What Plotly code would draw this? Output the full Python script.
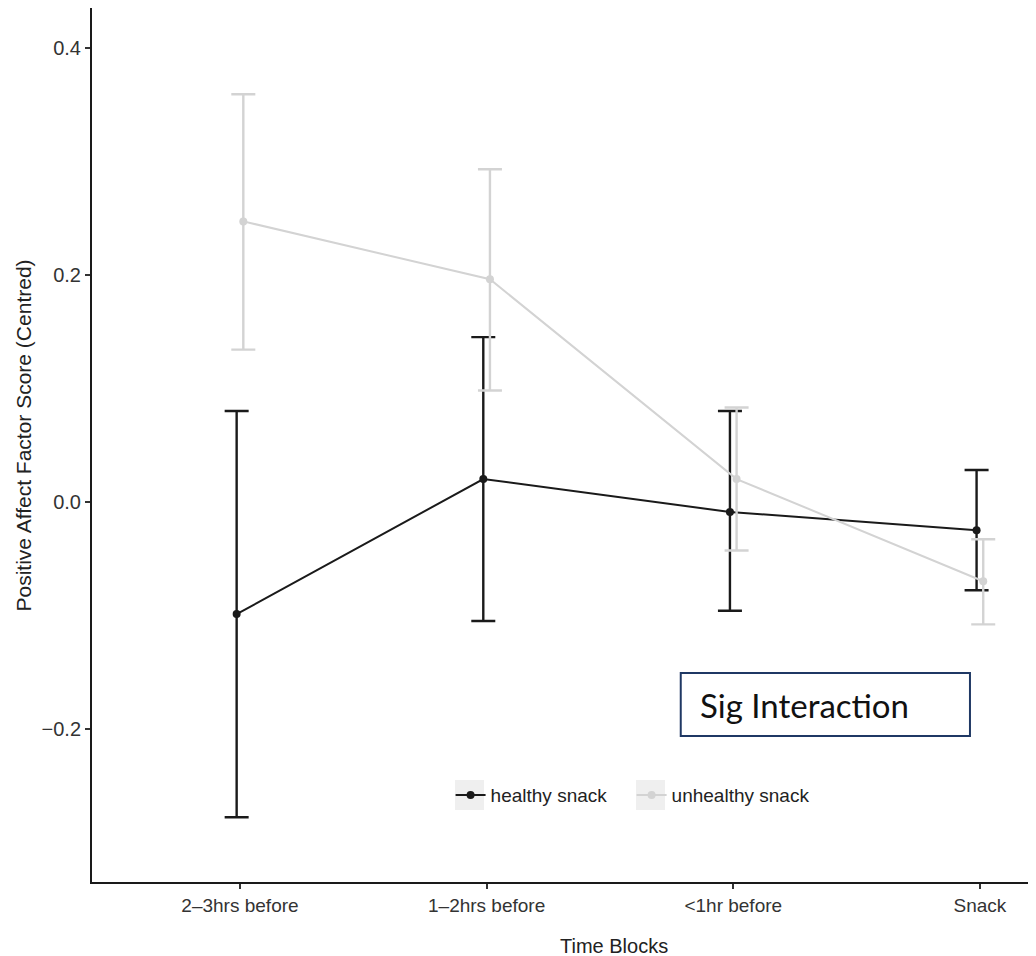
import plotly.graph_objects as go

categories = ["2–3hrs before", "1–2hrs before", "<1hr before", "Snack"]
groups = ["healthy snack", "unhealthy snack"]

healthy_mean = [-0.099, 0.020, -0.009, -0.025]
healthy_upper = [0.080, 0.145, 0.080, 0.028]
healthy_lower = [-0.278, -0.105, -0.096, -0.078]

unhealthy_mean = [0.247, 0.196, 0.020, -0.070]
unhealthy_upper = [0.359, 0.293, 0.083, -0.033]
unhealthy_lower = [0.134, 0.098, -0.043, -0.108]

y_ticks = [-0.2, 0.0, 0.2, 0.4]
y_ticktext = ["−0.2", "0.0", "0.2", "0.4"]

colors = {"healthy snack": "#1a1a1a", "unhealthy snack": "#d3d3d3"}
dodge = {"healthy snack": -0.0135, "unhealthy snack": 0.0135}
legend_ref = {"healthy snack": "legend", "unhealthy snack": "legend2"}

series = {
    "healthy snack": (healthy_mean, healthy_upper, healthy_lower),
    "unhealthy snack": (unhealthy_mean, unhealthy_upper, unhealthy_lower),
}

fig = go.Figure()
for g in groups:
    m, up, lo = series[g]
    xs = [i + dodge[g] for i in range(len(categories))]
    fig.add_trace(go.Scatter(
        x=xs, y=m, name=g, mode="lines+markers", legend=legend_ref[g],
        line=dict(color=colors[g], width=2),
        marker=dict(color=colors[g], size=8),
        error_y=dict(type="data", symmetric=False,
                     array=[u - v for u, v in zip(up, m)],
                     arrayminus=[v - l for v, l in zip(m, lo)],
                     color=colors[g], thickness=2.4, width=12),
    ))

font_main = "Liberation Sans, Arial, sans-serif"
legend_style = dict(orientation="h", yanchor="middle", xanchor="left",
                    bgcolor="rgba(0,0,0,0)", font=dict(size=19, color="#222222"),
                    itemwidth=30)

fig.update_layout(
    width=1020, height=948,
    margin=dict(l=84, r=0, t=0, b=74),
    paper_bgcolor="white", plot_bgcolor="white",
    font=dict(family=font_main, size=19, color="#333333"),
    showlegend=True,
    legend=dict(x=0.3831, y=0.0995, **legend_style),
    legend2=dict(x=0.5765, y=0.0995, **legend_style),
    xaxis=dict(range=[-0.600, 3.195], tickmode="array",
               tickvals=list(range(len(categories))), ticktext=categories,
               tickfont=dict(size=19, color="#333333"),
               showline=True, linecolor="#1a1a1a", linewidth=2,
               ticks="outside", ticklen=5, tickcolor="#333333", tickwidth=1.5,
               showgrid=False, zeroline=False),
    yaxis=dict(range=[-0.335, 0.435], tickmode="array",
               tickvals=y_ticks, ticktext=y_ticktext,
               tickfont=dict(size=20, color="#333333"),
               showline=True, linecolor="#1a1a1a", linewidth=2,
               ticks="outside", ticklen=5, tickcolor="#333333", tickwidth=1.5,
               showgrid=False, zeroline=False),
)

# axis titles (placed as annotations; the reference plot area extends past the crop)
fig.add_annotation(xref="paper", yref="paper", x=0.5577, y=-0.073,
                   xanchor="center", yanchor="middle", showarrow=False,
                   text="Time Blocks", font=dict(size=20, color="#222222"))
fig.add_annotation(xref="paper", yref="paper", x=-0.0732, y=0.5114,
                   xanchor="center", yanchor="middle", showarrow=False, textangle=-90,
                   text="Positive Affect Factor Score (Centred)",
                   font=dict(size=21, color="#222222"))

# legend key backgrounds
for x0, x1 in [(0.3878, 0.4188), (0.5812, 0.6122)]:
    fig.add_shape(type="rect", xref="paper", yref="paper",
                  x0=x0, x1=x1, y0=0.0824, y1=0.1167,
                  line=dict(width=0), fillcolor="#efefef", layer="below")

fig.add_shape(type="rect", xref="paper", yref="paper",
              x0=0.629, x1=0.938, y0=0.167, y1=0.239,
              line=dict(color="#1f3864", width=2), fillcolor="white", layer="above")
fig.add_annotation(xref="paper", yref="paper", x=0.647, y=0.2025,
                   xanchor="left", yanchor="middle", showarrow=False,
                   text="Sig Interaction",
                   font=dict(family="Lato, Open Sans, sans-serif", size=33, color="#111111"))

fig.write_html("out.html")
